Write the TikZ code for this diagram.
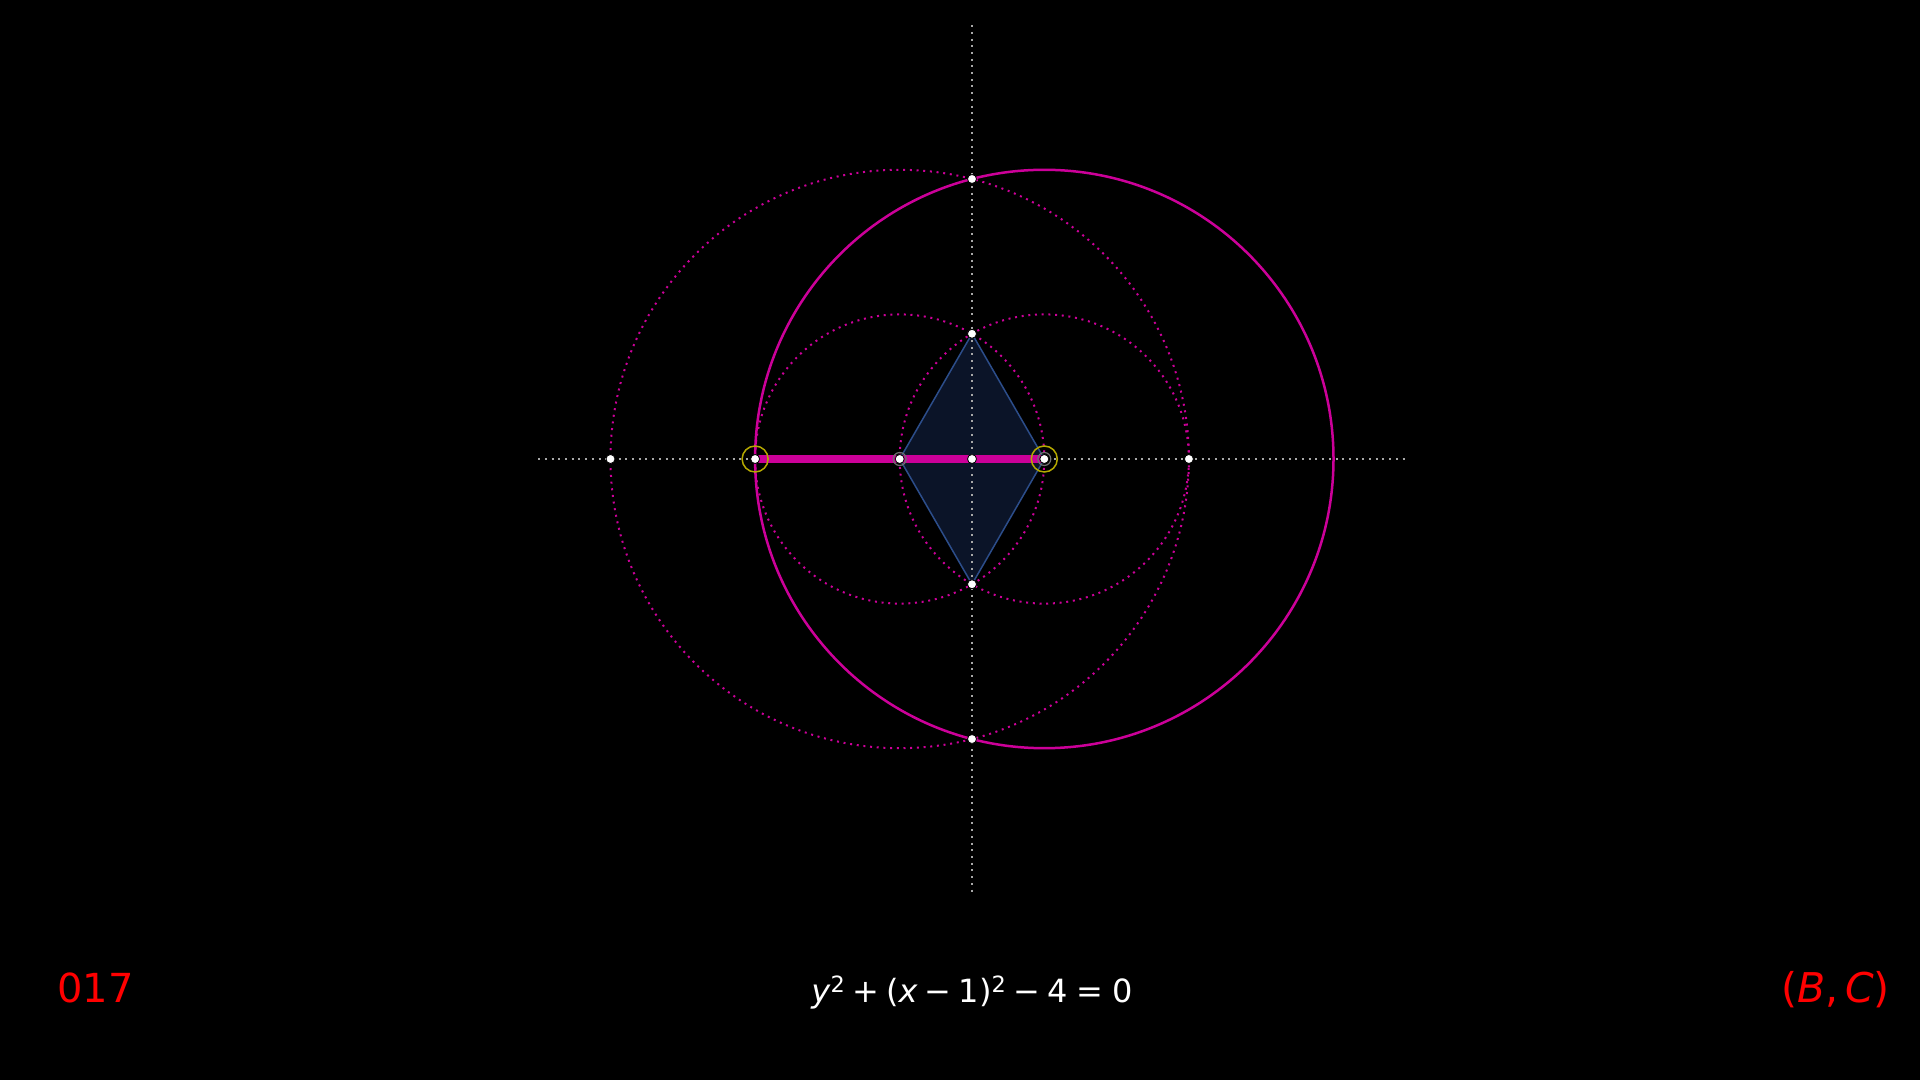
\documentclass[tikz,border=0pt]{standalone}
\usepackage{fontspec}
\setmainfont{DejaVu Sans}
\usetikzlibrary{calc}
\definecolor{mag}{HTML}{CC0099}
\definecolor{axisgray}{HTML}{A8A8A8}
\definecolor{halogray}{HTML}{707070}
\definecolor{rhfill}{HTML}{0B1428}
\definecolor{rhedge}{HTML}{2C4D8A}
\definecolor{ylw}{HTML}{B5A800}
\definecolor{lblred}{HTML}{FF0000}
\newcommand{\msp}{\hspace{0.22em}}
\tikzset{
  axisline/.style={axisgray, line width=2pt, dash pattern=on 2pt off 4.7pt},
  dotcircle/.style={mag, line width=2pt, dash pattern=on 2pt off 4.7pt},
  solidcircle/.style={mag, line width=2.5pt},
  rhombus/.style={fill=rhfill, draw=rhedge, line width=1.5pt, line join=round},
  segment/.style={mag, line width=8pt},
  ring/.style={draw=ylw, line width=1.5pt, circle, minimum size=26pt, inner sep=0pt},
  halo/.style={draw=halogray, line width=1.2pt, circle, minimum size=13pt, inner sep=0pt},
  pt/.style={circle, fill=white, draw=black, line width=0.8pt, minimum size=9pt, inner sep=0pt},
  lbl/.style={inner sep=0pt}
}
\begin{document}
\begin{tikzpicture}[x=1pt,y=1pt]
\fill[black] (0,0) rectangle (1920,1080);
\useasboundingbox (0,0) rectangle (1920,1080);
\begin{scope}[shift={(972,621)}, x=72.3pt, y=72.3pt]
  \coordinate (O) at (0,0);
  \coordinate (A) at (-1,0);
  \coordinate (B) at (1,0);
  \coordinate (L3) at (-3,0);
  \coordinate (L5) at (-5,0);
  \coordinate (R3) at (3,0);
  \coordinate (T3) at (0,1.7321);
  \coordinate (B3) at (0,-1.7321);
  \coordinate (T15) at (0,3.873);
  \coordinate (B15) at (0,-3.873);
  \coordinate (XL) at (-6,0);
  \coordinate (XR) at (6,0);
  \coordinate (YT) at (0,6);
  \coordinate (YB) at (0,-6);
  % rhombus
  \draw[rhombus] (A) -- (T3) -- (B) -- (B3) -- cycle;
  % axes
  \draw[axisline] (XL) -- (XR);
  \draw[axisline] (YT) -- (YB);
  % dotted circles
  \draw[dotcircle] (A) circle (4);
  \draw[dotcircle] (A) circle (2);
  \draw[dotcircle] (B) circle (2);
  % solid circle
  \draw[solidcircle] (B) circle (4);
  % thick segment
  \draw[segment] (L3) -- (B);
  % rings
  \node[halo] at (A) {};
  \node[halo] at (B) {};
  \node[ring] (rL) at (L3) {};
  \node[ring] (rB) at (B) {};
  % points
  \node[pt] (pL5) at (L5) {};
  \node[pt] (pL3) at (L3) {};
  \node[pt] (pA) at (A) {};
  \node[pt] (pO) at (O) {};
  \node[pt] (pB) at (B) {};
  \node[pt] (pR3) at (R3) {};
  \node[pt] (pT3) at (T3) {};
  \node[pt] (pB3) at (B3) {};
  \node[pt] (pT15) at (T15) {};
  \node[pt] (pB15) at (B15) {};
\end{scope}
\node[lbl, anchor=base west, text=lblred, font=\fontsize{40}{48}\selectfont] (num) at (57,78) {017};
\node[lbl, anchor=base, text=white, font=\fontsize{32}{40}\selectfont] (eq) at (972,78)
  {\textit{y}\textsuperscript{2}\msp+\msp(\textit{x}\msp−\msp1)\textsuperscript{2}\msp−\msp4\hspace{0.28em}=\hspace{0.28em}0};
\node[lbl, anchor=base east, text=lblred, font=\fontsize{41}{48}\selectfont] (bc) at (1890,78)
  {(\textit{B},\hspace{0.17em}\textit{C})};
\end{tikzpicture}
\end{document}
